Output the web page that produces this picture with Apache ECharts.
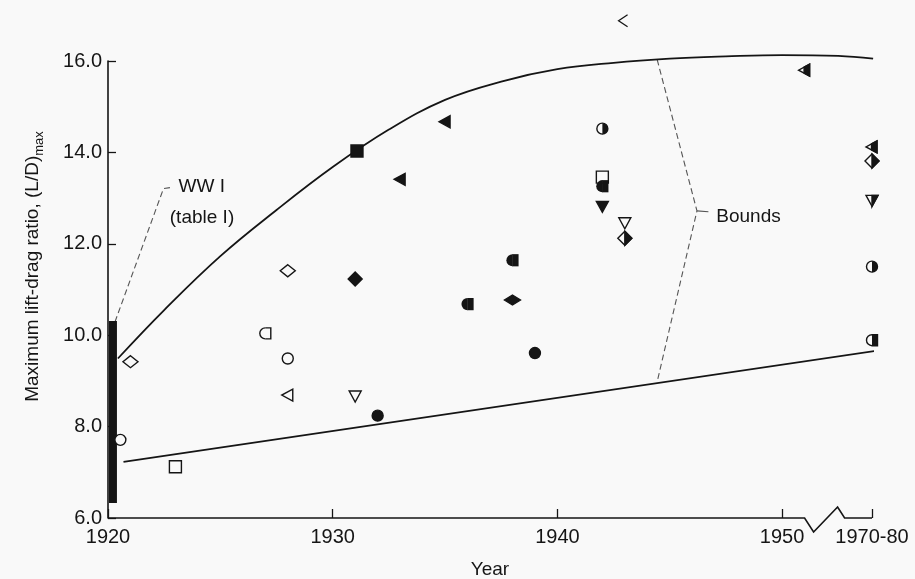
<!DOCTYPE html>
<html>
<head>
<meta charset="utf-8">
<script src="https://cdn.jsdelivr.net/npm/echarts@6/dist/echarts.min.js"></script>
<style>
html,body{margin:0;padding:0;background:#f9f9f9;}
#main{width:915px;height:579px;}
</style>
</head>
<body>
<div id="main"></div>
<script>
// ---------- data ----------
const xTickValues = [1920, 1930, 1940, 1950, 1954];
const xTickLabels = ['1920', '1930', '1940', '1950', '1970-80'];
const yTickValues = [6, 8, 10, 12, 14, 16];
const breakStartYear = 1951.0;

const upperX = [1920.44, 1922.5, 1925, 1927.5, 1930, 1932.5, 1935, 1937.5, 1940, 1942.5, 1945, 1947.5, 1950, 1952.5, 1954.05];
const upperY = [9.49, 10.55, 11.73, 12.74, 13.68, 14.50, 15.15, 15.55, 15.82, 15.96, 16.05, 16.10, 16.13, 16.11, 16.05];

const lowerX = [1920.69, 1954.35];
const lowerY = [7.23, 9.67];

const ww1BarX = [1920.22];
const ww1BarLow = [6.33];
const ww1BarHigh = [10.31];

const markerX = [1921.0, 1920.55, 1923.0, 1927.0, 1928.0, 1928.0, 1928.0, 1931.0, 1931.08, 1931.0,
                 1932.0, 1933.0, 1935.0, 1936.0, 1938.0, 1938.0, 1939.0, 1942.0, 1942.0, 1942.0,
                 1942.0, 1943.0, 1943.0, 1942.9, 1951.0, 1954, 1954, 1954, 1954, 1954];
const markerY = [9.42, 7.71, 7.12, 10.04, 11.41, 9.49, 8.69, 11.23, 14.03, 8.67,
                 8.24, 13.41, 14.67, 10.68, 11.64, 10.77, 9.61, 14.52, 13.46, 13.26,
                 12.82, 12.46, 12.12, 16.88, 15.80, 14.12, 13.81, 12.95, 11.50, 9.89];
const markerShape = ['diamondOpen', 'circleOpen', 'squareOpen', 'dOpen', 'diamondOpen', 'circleOpen', 'triLeftOpen', 'diamondFilled', 'squareFilled', 'triDownOpen',
                     'circleFilled', 'triLeftFilled', 'triLeftFilled', 'dFilled', 'dFilled', 'diamondFlatFilled', 'circleFilled', 'circleHalf', 'squareOpen', 'dFilled',
                     'triDownFilled', 'triDownOpen', 'diamondHalf', 'chevron', 'triLeftHalf', 'triLeftHalf', 'diamondHalf', 'triDownHalf', 'circleHalf', 'dHalf'];

const ww1LeaderX = [1920.31, 1922.47, 1922.77];
const ww1LeaderY = [10.29, 13.21, 13.23];
const boundsLeaderX = [1944.44, 1946.21, 1944.44];
const boundsLeaderY = [16.03, 12.72, 8.98];
const boundsTickX = [1946.21, 1946.72];
const boundsTickY = [12.72, 12.70];

const annotationText = ['WW I', '(table I)', 'Bounds'];
const annotationX = [1923.14, 1922.75, 1947.07];
const annotationY = [13.24, 12.56, 12.60];

// ---------- chart ----------
const INK = '#151515';
const BG = '#f9f9f9';
const FONT = '"Liberation Sans", Arial, sans-serif';
const zip = (xs, ys) => xs.map((x, i) => [x, ys[i]]);

function markerEls(kind, cx, cy) {
  const lw = 1.4;
  const open = { fill: BG, stroke: INK, lineWidth: lw };
  const full = { fill: INK, stroke: INK, lineWidth: lw };
  const r = 5.5;
  const poly = (pts, st) => ({ type: 'polygon', shape: { points: pts }, style: st });
  const diamond = [[cx, cy - 7], [cx + 7, cy], [cx, cy + 7], [cx - 7, cy]];
  const triDown = [[cx - 6, cy - 5], [cx + 6, cy - 5], [cx, cy + 6]];
  const triLeft = [[cx + 5, cy - 6], [cx + 5, cy + 6], [cx - 6, cy]];
  const dOutline = () => [
    { type: 'sector', shape: { cx: cx, cy: cy, r0: 0, r: r, startAngle: Math.PI / 2, endAngle: Math.PI * 1.5, clockwise: true }, style: { fill: BG, stroke: null } },
    { type: 'rect', shape: { x: cx, y: cy - r, width: r, height: 2 * r }, style: { fill: BG } },
    { type: 'arc', shape: { cx: cx, cy: cy, r: r, startAngle: Math.PI / 2, endAngle: Math.PI * 1.5, clockwise: true }, style: { stroke: INK, lineWidth: lw, fill: null } },
    { type: 'polyline', shape: { points: [[cx, cy - r], [cx + r, cy - r], [cx + r, cy + r], [cx, cy + r]] }, style: { stroke: INK, lineWidth: lw, fill: null } }
  ];
  switch (kind) {
    case 'circleOpen': return [{ type: 'circle', shape: { cx: cx, cy: cy, r: r }, style: open }];
    case 'circleFilled': return [{ type: 'circle', shape: { cx: cx, cy: cy, r: r }, style: full }];
    case 'circleHalf': return [
      { type: 'circle', shape: { cx: cx, cy: cy, r: r }, style: open },
      { type: 'sector', shape: { cx: cx, cy: cy, r0: 0, r: r, startAngle: -Math.PI / 2, endAngle: Math.PI / 2, clockwise: true }, style: { fill: INK } }
    ];
    case 'squareOpen': return [{ type: 'rect', shape: { x: cx - 6, y: cy - 6, width: 12, height: 12 }, style: open }];
    case 'squareFilled': return [{ type: 'rect', shape: { x: cx - 6, y: cy - 6, width: 12, height: 12 }, style: full }];
    case 'diamondOpen': return [poly([[cx, cy - 6], [cx + 7.5, cy], [cx, cy + 6], [cx - 7.5, cy]], open)];
    case 'diamondFilled': return [poly(diamond, full)];
    case 'diamondFlatFilled': return [poly([[cx, cy - 5], [cx + 8, cy], [cx, cy + 5], [cx - 8, cy]], full)];
    case 'diamondHalf': return [poly(diamond, open), poly([[cx, cy - 7], [cx + 7, cy], [cx, cy + 7]], full)];
    case 'triDownOpen': return [poly(triDown, open)];
    case 'triDownFilled': return [poly(triDown, full)];
    case 'triDownHalf': return [poly(triDown, open), poly([[cx, cy - 5], [cx + 6, cy - 5], [cx, cy + 6]], full)];
    case 'triLeftOpen': return [poly(triLeft, open)];
    case 'triLeftFilled': return [poly(triLeft, full)];
    case 'triLeftHalf': return [poly(triLeft, open), poly([[cx - 0.5, cy - 3], [cx + 5, cy - 6], [cx + 5, cy + 6], [cx - 0.5, cy + 3]], full)];
    case 'dOpen': return dOutline();
    case 'dFilled': return [
      { type: 'sector', shape: { cx: cx, cy: cy, r0: 0, r: r + 0.6, startAngle: Math.PI / 2, endAngle: Math.PI * 1.5, clockwise: true }, style: { fill: INK } },
      { type: 'rect', shape: { x: cx - 0.3, y: cy - r - 0.6, width: r + 0.9, height: 2 * r + 1.2 }, style: { fill: INK } }
    ];
    case 'dHalf': return dOutline().concat([{ type: 'rect', shape: { x: cx, y: cy - r, width: r, height: 2 * r }, style: { fill: INK } }]);
    case 'chevron': return [{ type: 'polyline', shape: { points: [[cx + 5, cy - 6], [cx - 4, cy], [cx + 5, cy + 6]] }, style: { stroke: INK, lineWidth: 1.3, fill: null } }];
  }
  return [];
}

const dashed = { color: '#555555', width: 1.1, type: [6, 3.5] };

const option = {
  backgroundColor: BG,
  animation: false,
  textStyle: { fontFamily: FONT, color: INK },
  grid: { left: 108, right: 43, top: 61, bottom: 61, containLabel: false, outerBoundsMode: 'none' },
  xAxis: {
    type: 'value', min: 1920, max: 1954,
    name: 'Year', nameLocation: 'middle', nameGap: 42,
    nameTextStyle: { fontSize: 19, color: INK, fontFamily: FONT },
    axisLine: { show: false },
    splitLine: { show: false },
    axisTick: { show: true, inside: true, length: 9, customValues: xTickValues, lineStyle: { color: INK, width: 1.3 } },
    axisLabel: {
      customValues: xTickValues, margin: 9, fontSize: 20, color: INK, fontFamily: FONT,
      formatter: v => xTickLabels[xTickValues.indexOf(v)] || ''
    }
  },
  yAxis: {
    type: 'value', min: 6, max: 16, interval: 2,
    name: '{a|Maximum lift-drag ratio, (L/D)}{b|max}', nameLocation: 'middle', nameGap: 62,
    nameTextStyle: {
      color: INK, fontFamily: FONT, padding: [0, 0, 0, 46],
      rich: {
        a: { fontSize: 19, fontFamily: FONT, color: INK, lineHeight: 26, verticalAlign: 'middle' },
        b: { fontSize: 13, fontFamily: FONT, color: INK, lineHeight: 26, verticalAlign: 'bottom' }
      }
    },
    axisLine: { show: true, lineStyle: { color: INK, width: 1.6 } },
    splitLine: { show: false },
    axisTick: { show: true, inside: true, length: 8, lineStyle: { color: INK, width: 1.3 } },
    axisLabel: { margin: 6, fontSize: 20, color: INK, fontFamily: FONT, formatter: v => v.toFixed(1) }
  },
  series: [
    { type: 'line', name: 'upper bound', data: zip(upperX, upperY), smooth: 0.4, symbol: 'none', clip: false,
      lineStyle: { color: INK, width: 1.8 }, z: 2 },
    { type: 'line', name: 'lower bound', data: zip(lowerX, lowerY), symbol: 'none', clip: false,
      lineStyle: { color: INK, width: 1.8 }, z: 2 },
    { type: 'line', name: 'ww1 leader', data: zip(ww1LeaderX, ww1LeaderY), symbol: 'none', clip: false, lineStyle: dashed, z: 1 },
    { type: 'line', name: 'bounds leader', data: zip(boundsLeaderX, boundsLeaderY), symbol: 'none', clip: false, lineStyle: dashed, z: 1 },
    { type: 'line', name: 'bounds tick', data: zip(boundsTickX, boundsTickY), symbol: 'none', clip: false,
      lineStyle: { color: '#555555', width: 1.1 }, z: 1 },
    { type: 'custom', name: 'WW I range', clip: false, z: 3,
      data: ww1BarX.map((x, i) => [x, ww1BarLow[i], ww1BarHigh[i]]),
      renderItem: (params, api) => {
        const lo = api.coord([api.value(0), api.value(1)]);
        const hi = api.coord([api.value(0), api.value(2)]);
        return { type: 'rect', shape: { x: lo[0] - 4, y: hi[1], width: 8, height: lo[1] - hi[1] }, style: { fill: INK } };
      }
    },
    { type: 'custom', name: 'aircraft', clip: false, z: 5,
      data: markerX.map((x, i) => [x, markerY[i]]),
      renderItem: (params, api) => {
        const p = api.coord([api.value(0), api.value(1)]);
        return { type: 'group', children: markerEls(markerShape[params.dataIndex], p[0], p[1]) };
      }
    },
    { type: 'custom', name: 'annotations', clip: false, z: 6,
      data: annotationX.map((x, i) => [x, annotationY[i]]),
      renderItem: (params, api) => {
        const p = api.coord([api.value(0), api.value(1)]);
        return { type: 'text', x: p[0], y: p[1],
          style: { text: annotationText[params.dataIndex], fill: INK, font: '19px ' + FONT, align: 'left', verticalAlign: 'middle' } };
      }
    }
  ]
};

const chart = echarts.init(document.getElementById('main'), null, { renderer: 'canvas' });
chart.setOption(option);

// x axis line with the scale break before the 1970-80 position
const pA = chart.convertToPixel({ gridIndex: 0 }, [xTickValues[0], yTickValues[0]]);
const pB = chart.convertToPixel({ gridIndex: 0 }, [breakStartYear, yTickValues[0]]);
const pE = chart.convertToPixel({ gridIndex: 0 }, [xTickValues[xTickValues.length - 1], yTickValues[0]]);
chart.setOption({
  graphic: [{
    type: 'polyline', z: 10,
    shape: { points: [pA, pB, [pB[0] + 9, pB[1] + 14], [pB[0] + 33, pB[1] - 11], [pB[0] + 40, pB[1]], pE] },
    style: { stroke: INK, lineWidth: 1.6, fill: null }
  }]
});
</script>
</body>
</html>
